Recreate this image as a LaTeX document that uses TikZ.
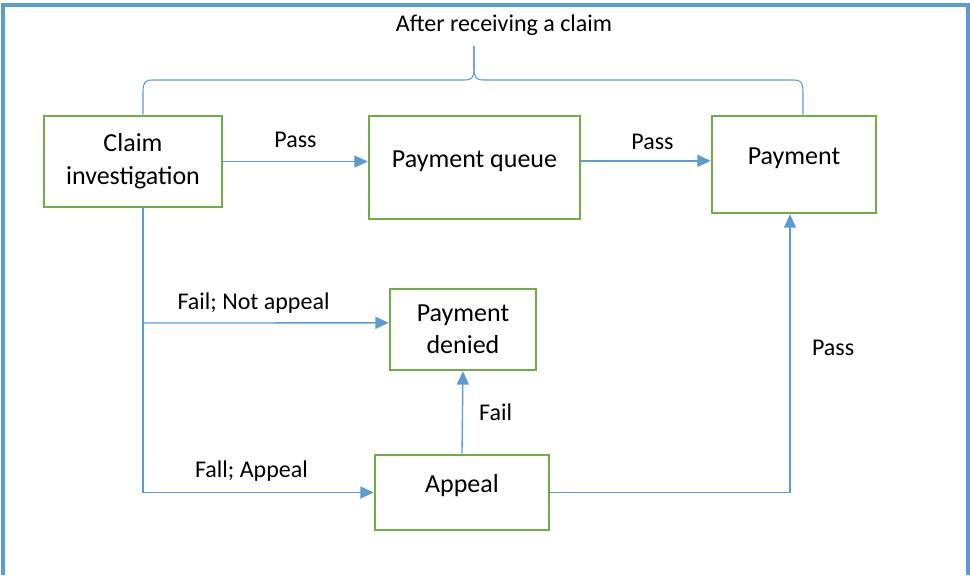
\documentclass[tikz,border=0pt]{standalone}
\usepackage{fontspec}
\setmainfont{Carlito}
\usepackage{xcolor}
\usetikzlibrary{positioning,arrows.meta}
\definecolor{msblue}{HTML}{5B9BD5}
\definecolor{msgreen}{HTML}{70AD47}
\tikzset{
  stage/.style={draw=msgreen,line width=1.9pt,fill=white,align=center,
    font=\fontsize{19.5}{25}\selectfont},
  raised/.style={text height=0.7em,text depth=0.66em},
  flow/.style={draw=msblue,line width=1pt,-{Triangle[length=10pt,width=9pt]}},
  wire/.style={draw=msblue,line width=1pt},
  lbl/.style={font=\fontsize{18}{22}\selectfont,inner sep=2pt}
}

\begin{document}
\begin{tikzpicture}[x=0.75pt,y=-0.75pt]
            \useasboundingbox (0,0) rectangle (970,575);
            % Frame
            \draw[msblue,line width=3pt] (3,575) -- (3,5) -- (968,5) -- (968,575);
            % Stages
            \node[stage,minimum width=133.5pt,minimum height=68.25pt] (claim) at (133,161.5) {Claim\\investigation};
            \node[stage,raised,minimum width=158.25pt,minimum height=77.25pt] (queue) at (474.5,167.5) {Payment queue};
            \node[stage,raised,minimum width=123pt,minimum height=72.75pt] (pay) at (794,164.5) {Payment};
            \node[stage,minimum width=109.5pt,minimum height=60.75pt,font=\fontsize{19.5}{24}\selectfont] (denied) at (463,329.5) {Payment\\denied};
            \node[stage,raised,minimum width=130.5pt,minimum height=56.25pt] (appeal) at (462,492.5) {Appeal};
            % Brace over the first row
            \node[lbl] (title) at (504,25) {After receiving a claim};
            \coordinate (bl) at (claim.north -| 143,0);
            \coordinate (br) at (pay.north -| 803,0);
            \coordinate (bt) at (474,46);
            \draw[wire,line width=0.8pt] (bl) -- (143,92) .. controls (143,82) and (145,80) .. (153,80)
                -- (464,80) .. controls (472,80) and (474,78) .. (474,68) -- (bt);
            \draw[wire,line width=0.8pt] (bt) -- (474,68) .. controls (474,78) and (476,80) .. (484,80)
                -- (793,80) .. controls (801,80) and (803,82) .. (803,92) -- (br);
            % Pass path
            \draw[flow] (claim.east) -- (claim.east -| queue.west) node[lbl,midway,above=8pt] (pass1) {Pass};
            \draw[flow] ([yshift=5pt]queue.east) -- ([yshift=5pt]queue.east -| pay.west) node[lbl,pos=0.55,above=6pt] (pass2) {Pass};
            % Fail paths
            \coordinate (trunk) at ([xshift=7.5pt]claim.south);
            \draw[wire] (trunk) -- (trunk |- appeal.west);
            \draw[flow] (trunk |- 0,323) -- ([yshift=5pt]denied.west) node[lbl,pos=0.45,above=5pt] (nofail) {Fail; Not appeal};
            \draw[flow] (trunk |- appeal.west) -- (appeal.west) node[lbl,pos=0.47,above=6pt] (apfail) {Fall; Appeal};
            \draw[flow] (appeal.north) -- (denied.south) node[lbl,midway,right=10pt] (fail) {Fail};
            \draw[flow] (appeal.east) -| ([xshift=-3pt]pay.south) node[lbl,pos=0.76,right=14pt] (pass3) {Pass};
           \end{tikzpicture}
\end{document}
